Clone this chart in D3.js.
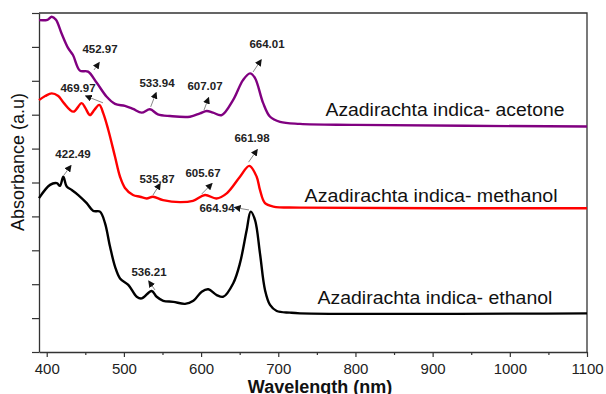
<!DOCTYPE html>
<html>
<head>
<meta charset="utf-8">
<script src="https://cdn.jsdelivr.net/npm/d3@7"></script>
<style>
  body { margin: 0; background: #fff; }
  svg { display: block; font-family: Arial, "Liberation Sans", sans-serif; }
</style>
</head>
<body>
<div id="chart"></div>
<script>
// wavelength (nm), absorbance (a.u, stacked offsets as plotted)
const acetone = [
  [390, 9.79], [401, 9.80], [406.5, 9.89], [412, 9.80], [419, 9.41], [427.6, 8.97], [434, 8.76],
  [443, 8.30], [453.5, 8.27], [464.8, 7.94], [477.7, 7.53], [488.5, 7.32], [501.4, 7.26],
  [511.8, 7.17], [523, 7.06], [533.8, 7.16], [544, 7.01], [559.7, 6.96], [585.6, 6.94],
  [598.6, 7.04], [607.3, 7.11], [615.4, 7.06], [626.7, 6.99], [641.4, 7.43], [654.3, 8.02],
  [663.4, 8.22], [669.9, 8.08], [680.3, 7.35], [689.4, 6.94], [702.3, 6.79], [728.2, 6.73],
  [800, 6.70], [1100, 6.65]
];
const methanol = [
  [390, 7.43], [398, 7.55], [406.5, 7.63], [415, 7.55], [422, 7.35], [434.4, 7.09], [445.3, 7.34],
  [450, 7.20], [456, 6.99], [462, 7.15], [468.1, 7.29], [473.3, 7.04], [479.8, 6.55], [488.5, 5.76],
  [495, 5.17], [501.4, 4.84], [511.8, 4.63], [520.9, 4.58], [529.5, 4.53], [537.7, 4.58],
  [550.7, 4.48], [572.7, 4.42], [589.5, 4.46], [605, 4.63], [620, 4.53], [633.2, 4.68],
  [650.4, 5.17], [662.5, 5.49], [672, 5.17], [676.3, 4.78], [682.8, 4.39], [693.6, 4.29],
  [728.2, 4.26], [1100, 4.24]
];
const ethanol = [
  [390, 4.54], [404.3, 4.93], [413, 4.98], [417.2, 4.90], [421.5, 5.17], [425.9, 4.88],
  [432.4, 4.78], [440.9, 4.63], [451.8, 4.39], [460.4, 4.16], [469, 4.14], [475.5, 3.80],
  [482, 3.11], [488.5, 2.52], [495, 2.17], [505.7, 1.98], [516.6, 1.63], [523, 1.58],
  [536, 1.80], [542.5, 1.63], [551, 1.51], [564, 1.48], [579.2, 1.42], [590, 1.51],
  [600.8, 1.78], [609.4, 1.85], [620.3, 1.68], [628.8, 1.63], [641.7, 2.03], [650.4, 2.62],
  [659.1, 3.60], [664.3, 4.14], [669.9, 3.89], [676.3, 2.91], [682.8, 1.83], [689.3, 1.39],
  [698, 1.21], [715.2, 1.16], [728.2, 1.14], [1100, 1.14]
];
const seriesNames = ['Azadirachta indica- acetone', 'Azadirachta indica- methanol', 'Azadirachta indica- ethanol'];
const xTicks = [400, 500, 600, 700, 800, 900, 1000, 1100];
const peakLabels = ['452.97', '533.94', '607.07', '664.01', '469.97', '422.49', '535.87', '605.67', '661.98', '664.94', '536.21'];

// layout (data coords): text centre, arrow tail, arrow head
const peakLayout = [
  { t: [469, 8.94], a: [461.3, 8.32], b: [467.7, 8.53] },
  { t: [542.9, 7.94], a: [534.7, 7.23], b: [541.6, 7.64] },
  { t: [605.1, 7.85], a: [603.8, 7.14], b: [609.6, 7.49] },
  { t: [685.4, 9.09], a: [667.3, 8.26], b: [677.6, 8.61] },
  { t: [440.5, 7.79], a: [472.9, 7.35], b: [450.9, 7.55] },
  { t: [434, 5.84], a: [422.4, 5.22], b: [431.1, 5.49] },
  { t: [542.9, 5.10], a: [537.7, 4.63], b: [546.8, 4.96] },
  { t: [602.5, 5.28], a: [600.8, 4.66], b: [613.8, 4.96] },
  { t: [666, 6.31], a: [661.5, 5.60], b: [672.5, 5.96] },
  { t: [620.6, 4.25], a: [662.1, 4.19], b: [643.9, 4.26] },
  { t: [532.5, 2.36], a: [540.3, 1.83], b: [532.5, 2.08] }
];
const nameLayout = [[916, 6.96, 239], [898, 4.42, 253], [903, 1.42, 235]];
const colors = ['#800080', '#ff0000', '#000000'];

const W = 606, H = 394;
const svg = d3.select('#chart').append('svg').attr('width', W).attr('height', H);

const x = d3.scaleLinear().domain([390, 1100]).range([39, 587]);
const y = d3.scaleLinear().domain([0, 10]).range([352, 13]);

svg.append('defs').append('marker')
  .attr('id', 'head')
  .attr('viewBox', '0 0 10 10')
  .attr('refX', 8).attr('refY', 5)
  .attr('markerWidth', 7).attr('markerHeight', 7)
  .attr('markerUnits', 'userSpaceOnUse')
  .attr('orient', 'auto')
  .append('path').attr('d', 'M0,0L10,5L0,10z').attr('fill', '#111');

// frame
svg.append('path')
  .attr('d', `M${x(390)},${y(10)}H${x(1100)}V${y(0)}`)
  .attr('fill', 'none').attr('stroke', '#333').attr('stroke-width', 1.3);

const xAxis = svg.append('g')
  .attr('transform', `translate(0,${y(0)})`)
  .call(d3.axisBottom(x).tickValues(xTicks).tickSize(5).tickSizeOuter(0).tickFormat(d3.format('d')));
svg.append('g')
  .attr('transform', `translate(0,${y(0)})`)
  .call(d3.axisBottom(x).tickValues(d3.range(450, 1100, 100)).tickSize(3).tickFormat(''))
  .call(g => g.select('.domain').remove());
const yAxis = svg.append('g')
  .attr('transform', `translate(${x(390)},0)`)
  .call(d3.axisLeft(y).tickValues(d3.range(0, 11)).tickSize(7).tickSizeOuter(0).tickFormat(''));

svg.selectAll('.domain').attr('stroke', '#333').attr('stroke-width', 1.3);
svg.selectAll('.tick line').attr('stroke', '#333').attr('stroke-width', 1.2);
xAxis.selectAll('text').attr('font-size', 15).attr('fill', '#222').attr('dy', '0.93em')
  .attr('font-family', 'Arial, "Liberation Sans", sans-serif');

// curves
const line = d3.line().x(d => x(d[0])).y(d => y(d[1])).curve(d3.curveCatmullRom.alpha(0.5));
[acetone, methanol, ethanol].forEach((s, i) => {
  svg.append('path').datum(s)
    .attr('d', line)
    .attr('fill', 'none')
    .attr('stroke', colors[i])
    .attr('stroke-width', 2.4)
    .attr('stroke-linejoin', 'round');
});

// series names
svg.selectAll('.name').data(seriesNames).enter().append('text')
  .attr('class', 'name')
  .attr('x', (d, i) => x(nameLayout[i][0]))
  .attr('y', (d, i) => y(nameLayout[i][1]))
  .attr('text-anchor', 'middle')
  .attr('font-size', 17.5)
  .attr('textLength', (d, i) => nameLayout[i][2])
  .attr('lengthAdjust', 'spacingAndGlyphs')
  .attr('fill', '#111')
  .text(d => d);

// peak annotations
peakLabels.forEach((lab, i) => {
  const p = peakLayout[i];
  svg.append('line')
    .attr('x1', x(p.a[0])).attr('y1', y(p.a[1]))
    .attr('x2', x(p.b[0])).attr('y2', y(p.b[1]))
    .attr('stroke', '#888').attr('stroke-width', 1)
    .attr('marker-end', 'url(#head)');
  svg.append('text')
    .attr('x', x(p.t[0])).attr('y', y(p.t[1]))
    .attr('dy', '0.35em')
    .attr('text-anchor', 'middle')
    .attr('font-size', 11.5)
    .attr('font-weight', 'bold')
    .attr('fill', '#222')
    .text(lab);
});

// axis titles
svg.append('text')
  .attr('transform', `translate(24,162) rotate(-90)`)
  .attr('text-anchor', 'middle')
  .attr('font-size', 18)
  .attr('fill', '#111')
  .text('Absorbance (a.u)');
svg.append('text')
  .attr('x', 320).attr('y', 393)
  .attr('text-anchor', 'middle')
  .attr('font-size', 18)
  .attr('font-weight', 'bold')
  .attr('fill', '#111')
  .text('Wavelength (nm)');
</script>
</body>
</html>
